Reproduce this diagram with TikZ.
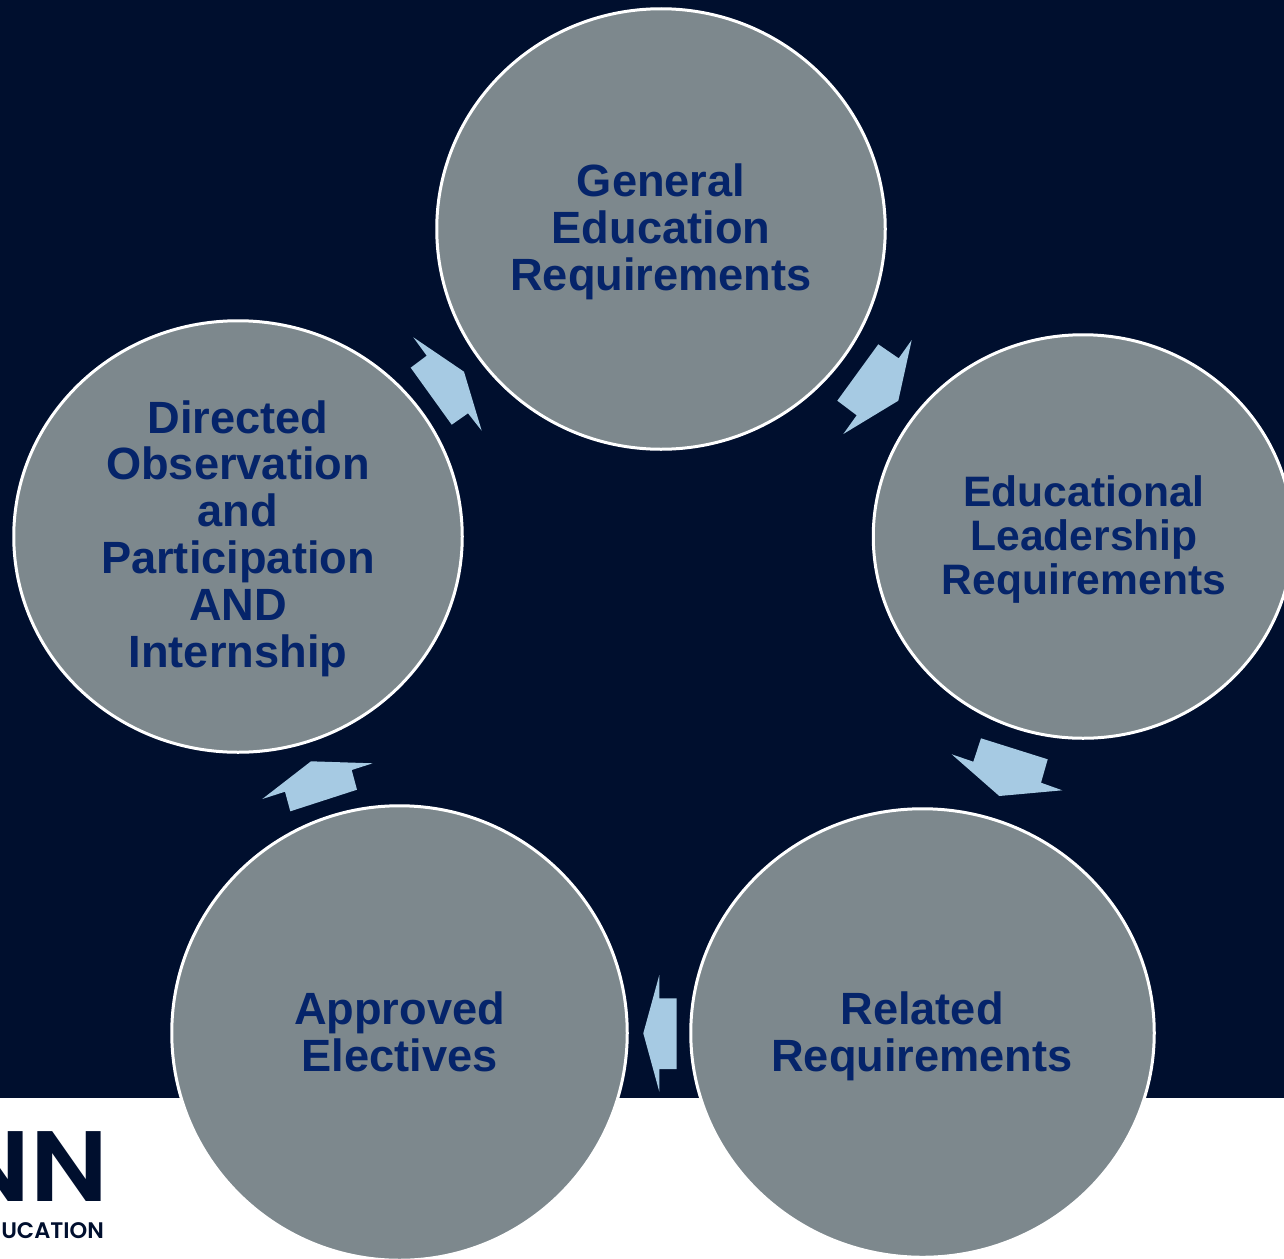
\documentclass[tikz,border=0pt]{standalone}
\usepackage{fontspec}
\setmainfont{Liberation Sans}
\newfontfamily\logofont{Poppins SemiBold}
\newfontfamily\logowide[FakeStretch=1.06]{Poppins SemiBold}
\usetikzlibrary{shapes.geometric}
\definecolor{navybg}{HTML}{000F2E}
\definecolor{circgrey}{HTML}{7D888D}
\definecolor{arrowblue}{HTML}{A6CAE3}
\definecolor{labelblue}{HTML}{05246A}
\tikzset{
  stage/.style={ellipse,draw=white,line width=3pt,fill=circgrey,inner sep=0pt,outer sep=0pt},
  lab/.style={inner sep=0pt,text=labelblue,align=center},
  big/.style={font=\fontsize{45.2}{46.8}\selectfont\bfseries},
  small/.style={font=\fontsize{42.6}{44}\selectfont\bfseries},
  blockarrow/.style={fill=arrowblue,draw=none}
}
\begin{document}
\begin{tikzpicture}[x=1pt,y=-1pt]
\useasboundingbox (0,0) rectangle (1284,1258);
\clip (0,0) rectangle (1284,1258);
\fill[white] (0,0) rectangle (1284,1258);
\fill[navybg] (0,0) rectangle (1284,1097.5);
\node[anchor=base east,inner sep=0pt,text=navybg,font=\fontsize{100}{100}\selectfont\logowide] (logomark) at (109,1201) {NN};
\node[anchor=base east,inner sep=0pt,text=navybg,font=\fontsize{22.5}{24}\selectfont\logofont] (logotext) at (104,1238) {UCATION};
\node[stage,minimum width=448.5pt,minimum height=440.5pt] (gen) at (661,229) {};
\node[stage,minimum width=419.5pt,minimum height=403.5pt] (lead) at (1083,536.5) {};
\node[stage,minimum width=463.5pt,minimum height=448.5pt] (rel) at (922.5,1033) {};
\node[stage,minimum width=455.5pt,minimum height=454.5pt] (elec) at (399.5,1033) {};
\node[stage,minimum width=448.5pt,minimum height=431.5pt] (obs) at (238,536.5) {};
\node[lab,big] (gentext) at (661,232) {General\\Education\\Requirements};
\node[lab,small] (leadtext) at (1084,539) {Educational\\Leadership\\Requirements};
\node[lab,big] (reltext) at (922,1036) {Related\\Requirements};
\node[lab,big] (electext) at (399.5,1031.5) {Approved\\Electives};
\node[lab,big] (obstext) at (238,538.5) {Directed\\Observation\\and\\Participation\\AND\\Internship};
\fill[blockarrow] (878.3,344.3) -- (898.7,358.3) -- (911.7,340) -- (898.3,400.7) -- (843.3,434) -- (856.7,415.3) -- (837.3,400.7) -- cycle;
\fill[blockarrow] (981,738.3) -- (1047.7,759.3) -- (1041,782.7) -- (1062.3,790.3) -- (999.3,796) -- (951.7,754.3) -- (973.3,761.7) -- cycle;
\fill[blockarrow] (659.3,975) -- (659.3,998.3) -- (676.7,998.3) -- (676.7,1069) -- (659.3,1069) -- (659.3,1091.7) -- (643.3,1033.3) -- cycle;
\fill[blockarrow] (311,761.3) -- (372.7,763.3) -- (351.7,770) -- (357,789.7) -- (290.3,811.3) -- (285,791.7) -- (262.3,799) -- cycle;
\fill[blockarrow] (413.3,337.3) -- (464,371.7) -- (481.7,430.7) -- (468,413.3) -- (451.7,424.7) -- (410.7,367.7) -- (426.7,355.7) -- cycle;
\end{tikzpicture}
\end{document}
